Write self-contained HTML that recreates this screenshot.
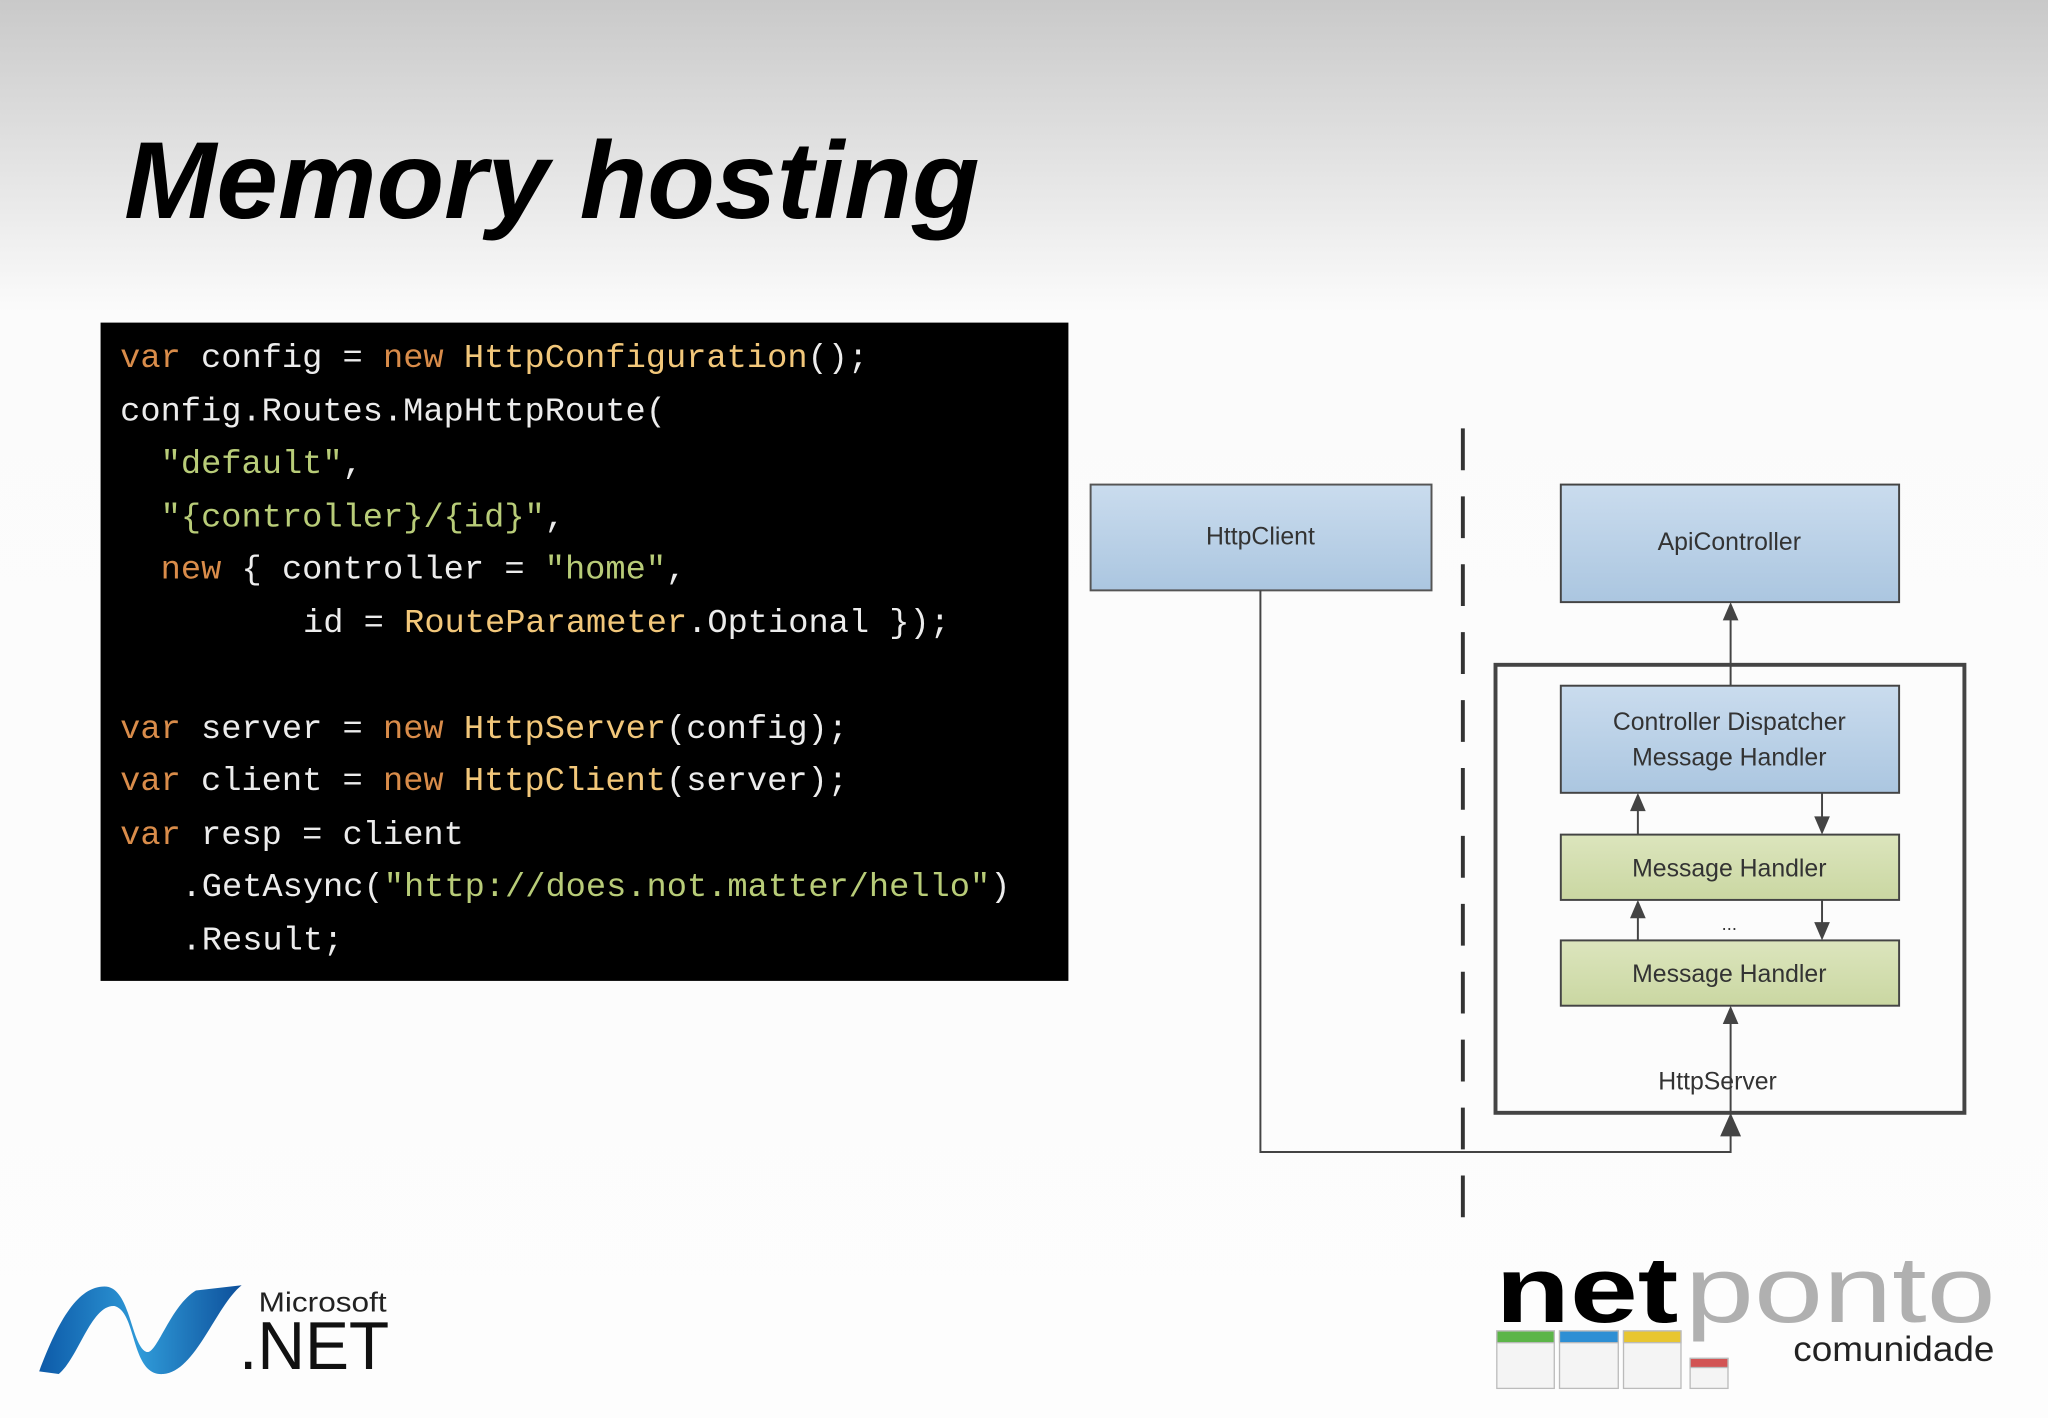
<!DOCTYPE html>
<html><head><meta charset="utf-8"><style>
html,body{margin:0;padding:0;width:2048px;height:1418px;overflow:hidden;background:#fff}
svg{display:block}
.code text{white-space:pre}
</style></head><body>
<svg width="2048" height="1418" viewBox="0 0 1568 1085.66" xmlns="http://www.w3.org/2000/svg">
<defs>
<linearGradient id="bg" x1="0" y1="0" x2="0" y2="1">
<stop offset="0" stop-color="#c9c9c9"/><stop offset="0.22" stop-color="#fbfbfb"/><stop offset="1" stop-color="#fdfdfd"/>
</linearGradient>
<linearGradient id="blue" x1="0" y1="0" x2="0" y2="1">
<stop offset="0" stop-color="#cadcee"/><stop offset="1" stop-color="#abc6e0"/>
</linearGradient>
<linearGradient id="green" x1="0" y1="0" x2="0" y2="1">
<stop offset="0" stop-color="#dce5bd"/><stop offset="1" stop-color="#cad7a2"/>
</linearGradient>
<linearGradient id="dn" x1="0" y1="0" x2="1" y2="0">
<stop offset="0" stop-color="#0d5aa8"/><stop offset="0.5" stop-color="#2f9ad8"/><stop offset="1" stop-color="#0d4f9a"/>
</linearGradient>
</defs>
<rect width="1568" height="1085.66" fill="url(#bg)"/>
<text x="95" y="167" font-family="Liberation Sans, sans-serif" font-weight="bold" font-style="italic" font-size="84" fill="#000" textLength="655" lengthAdjust="spacingAndGlyphs">Memory hosting</text>

<rect x="77" y="247" width="741" height="504" fill="#000"/>
<g class="code" font-family="Liberation Mono, monospace" font-size="25.8" fill="#ececec">
<text x="92" y="281"><tspan fill="#d98c4a">var</tspan> config = <tspan fill="#d98c4a">new</tspan> <tspan fill="#f2c77a">HttpConfiguration</tspan>();</text>
<text x="92" y="322">config.Routes.MapHttpRoute(</text>
<text x="123" y="362"><tspan fill="#b8cc78">"default"</tspan>,</text>
<text x="123" y="403"><tspan fill="#b8cc78">"{controller}/{id}"</tspan>,</text>
<text x="123" y="443"><tspan fill="#d98c4a">new</tspan> { controller = <tspan fill="#b8cc78">"home"</tspan>,</text>
<text x="232" y="484">id = <tspan fill="#f2c77a">RouteParameter</tspan>.Optional });</text>
<text x="92" y="565"><tspan fill="#d98c4a">var</tspan> server = <tspan fill="#d98c4a">new</tspan> <tspan fill="#f2c77a">HttpServer</tspan>(config);</text>
<text x="92" y="605"><tspan fill="#d98c4a">var</tspan> client = <tspan fill="#d98c4a">new</tspan> <tspan fill="#f2c77a">HttpClient</tspan>(server);</text>
<text x="92" y="646"><tspan fill="#d98c4a">var</tspan> resp = client</text>
<text x="139" y="686">.GetAsync(<tspan fill="#b8cc78">"http://does.not.matter/hello"</tspan>)</text>
<text x="139" y="727">.Result;</text>
</g>

<!-- diagram -->
<line x1="1120" y1="328" x2="1120" y2="932" stroke="#333" stroke-width="3" stroke-dasharray="32 20"/>
<rect x="835" y="371" width="261" height="81" fill="url(#blue)" stroke="#555" stroke-width="1.5"/>
<rect x="1195" y="371" width="259" height="90" fill="url(#blue)" stroke="#444" stroke-width="1.5"/>
<rect x="1145" y="509" width="359" height="343" fill="none" stroke="#444" stroke-width="3"/>
<rect x="1195" y="525" width="259" height="82" fill="url(#blue)" stroke="#444" stroke-width="1.5"/>
<rect x="1195" y="639" width="259" height="50" fill="url(#green)" stroke="#444" stroke-width="1.5"/>
<rect x="1195" y="720" width="259" height="50" fill="url(#green)" stroke="#444" stroke-width="1.5"/>
<g stroke="#444" stroke-width="1.5" fill="none">
<polyline points="965,452 965,882 1325,882 1325,862"/>
<line x1="1325" y1="852" x2="1325" y2="782"/>
<line x1="1325" y1="525" x2="1325" y2="472"/>
<line x1="1254" y1="639" x2="1254" y2="617"/>
<line x1="1395" y1="607" x2="1395" y2="629"/>
<line x1="1254" y1="720" x2="1254" y2="699"/>
<line x1="1395" y1="689" x2="1395" y2="710"/>
</g>
<g fill="#444">
<polygon points="1325,461 1319,475 1331,475"/>
<polygon points="1325,770 1319,784 1331,784"/>
<polygon points="1325,852 1317,870 1333,870"/>
<polygon points="1254,607 1248,621 1260,621"/>
<polygon points="1395,639 1389,625 1401,625"/>
<polygon points="1254,689 1248,703 1260,703"/>
<polygon points="1395,720 1389,706 1401,706"/>
</g>
<g font-family="Liberation Sans, sans-serif" font-size="19" fill="#333" text-anchor="middle">
<text x="965" y="417">HttpClient</text>
<text x="1324" y="421">ApiController</text>
<text x="1324" y="559">Controller Dispatcher</text>
<text x="1324" y="586">Message Handler</text>
<text x="1324" y="671">Message Handler</text>
<text x="1324" y="752">Message Handler</text>
<text x="1324" y="712" font-size="14">...</text>
<text x="1315" y="834">HttpServer</text>
</g>

<!-- .NET logo -->
<path d="M30,1050 C45,1010 60,985 80,985 C100,985 100,1030 112,1035 C120,1038 130,1000 150,988 L185,984 C165,1000 150,1050 125,1052 C100,1054 105,1005 88,1000 C70,998 60,1040 45,1052 Z" fill="url(#dn)"/>
<text x="198" y="1004" font-family="Liberation Sans, sans-serif" font-size="21" fill="#222" textLength="98" lengthAdjust="spacingAndGlyphs">Microsoft</text>
<text x="183" y="1048" font-family="Liberation Sans, sans-serif" font-size="52" fill="#111" textLength="115" lengthAdjust="spacingAndGlyphs">.NET</text>

<!-- netponto logo -->
<text x="1145" y="1012" font-family="Liberation Sans, sans-serif" font-weight="bold" font-size="72" fill="#000" textLength="140" lengthAdjust="spacingAndGlyphs">net</text>
<text x="1290" y="1012" font-family="Liberation Sans, sans-serif" font-size="72" fill="#b0b0b0" textLength="238" lengthAdjust="spacingAndGlyphs">ponto</text>
<text x="1373" y="1042" font-family="Liberation Sans, sans-serif" font-size="27" fill="#222" textLength="154" lengthAdjust="spacingAndGlyphs">comunidade</text>
<g stroke="#bbb" stroke-width="1">
<rect x="1146" y="1019" width="44" height="44" fill="#f4f4f4"/><rect x="1146" y="1019" width="44" height="9" fill="#5cb548"/>
<rect x="1194" y="1019" width="45" height="44" fill="#f4f4f4"/><rect x="1194" y="1019" width="45" height="9" fill="#2e8fd4"/>
<rect x="1243" y="1019" width="44" height="44" fill="#f4f4f4"/><rect x="1243" y="1019" width="44" height="9" fill="#e8c630"/>
<rect x="1294" y="1040" width="29" height="23" fill="#f4f4f4"/><rect x="1294" y="1040" width="29" height="7" fill="#d25454"/>
</g>
</svg>
</body></html>
